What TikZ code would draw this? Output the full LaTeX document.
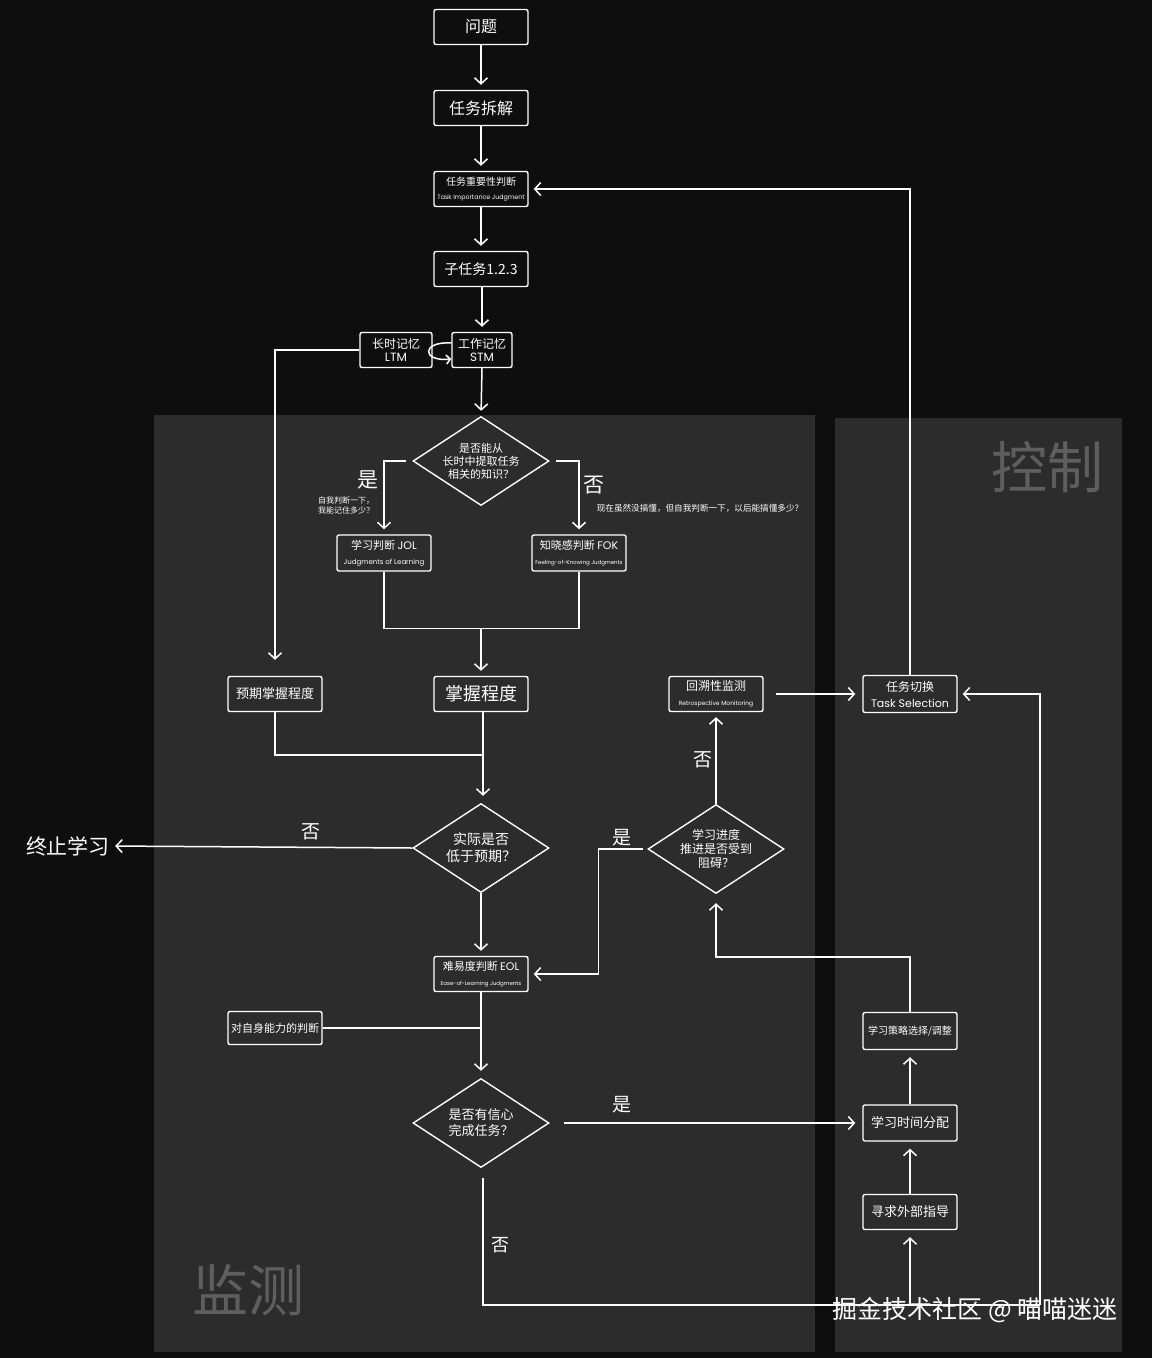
\documentclass[tikz,border=0pt]{standalone}
\usepackage{fontspec}
\setmainfont{Noto Sans CJK SC}
\newfontfamily\lat{Poppins}
\usetikzlibrary{arrows.meta,shapes.geometric}
\definecolor{bgc}{HTML}{0E0E0E}
\definecolor{panelc}{HTML}{2C2C2C}
\definecolor{titlec}{HTML}{5E5E5E}
\newcommand{\fs}[1]{\fontsize{#1}{#1}\selectfont}
\tikzset{
  box/.style={draw=white, line width=1.4pt, rounded corners=2pt, minimum width=94pt, minimum height=35pt, inner sep=0pt, text=white, align=center, font=\fs{15}},
  dia/.style={draw=white, line width=1.4pt, diamond, minimum width=136pt, minimum height=89pt, inner sep=0pt},
  dtext/.style={text=white, align=center, inner sep=0pt},
  lbl/.style={text=white, inner sep=0pt, align=center},
  ttl/.style={text=titlec, font=\fs{56}, inner sep=0pt},
  line/.style={draw=white, line width=1.5pt},
  arr/.style={line, -{Straight Barb[length=6pt,width=13pt]}, shorten >=5pt}
}
\begin{document}
\begin{tikzpicture}[x=1pt,y=-1pt]
\fill[bgc] (0,0) rectangle (1152,1358);
\useasboundingbox (0,0) rectangle (1152,1358);
\fill[panelc] (154,415) rectangle (815,1352);
\fill[panelc] (835,418) rectangle (1122,1352);
\node[ttl] (tctrl) at (1047,467) {控制};
\node[ttl] (tmon) at (248,1290) {监测};

% nodes
\node[box, font=\fs{16}] (q) at (481,27) {问题};
\node[box, font=\fs{16}] (cj) at (481,108) {任务拆解};
\node[box] (imp) at (481,189) {{\fs{10}任务重要性判断}\\[-1pt]{\lat\fs{6.3}Task Importance Judgment}};
\node[box, font=\fs{14}] (sub) at (481,269) {子任务1.2.3};
\node[box, minimum width=72pt, font=\fs{12}] (ltm) at (396,350) {长时记忆\\[1pt]{\lat LTM}};
\node[box, minimum width=60pt, font=\fs{12}] (stm) at (482,350) {工作记忆\\[1pt]{\lat STM}};
\node[dia] (d1) at (481,461) {};
\node[dtext, font=\fs{11}] (d1t) at (d1) {是否能从\\[2pt]长时中提取任务\\[2pt]相关的知识？};
\node[box, minimum height=36pt] (jol) at (384,553) {{\fs{11}学习判断 {\lat JOL}}\\[0pt]{\lat\fs{7}Judgments of Learning}};
\node[box, minimum height=36pt] (fok) at (579,553) {{\fs{11}知晓感判断 {\lat FOK}}\\[0pt]{\lat\fs{5.5}Feeling-of-Knowing Judgments}};
\node[box, font=\fs{13}] (exp) at (275,694) {预期掌握程度};
\node[box, font=\fs{18}] (mas) at (481,694) {掌握程度};
\node[box] (retro) at (716,694) {{\fs{12}回溯性监测}\\[0pt]{\lat\fs{6}Retrospective Monitoring}};
\node[box, minimum height=37pt] (sel) at (910,694) {{\fs{12}任务切换}\\[1pt]{\lat\fs{11}Task Selection}};
\node[dia] (d2) at (481,848) {};
\node[dtext, font=\fs{14}] (d2t) at (d2) {实际是否\\[3pt]低于预期？};
\node[dia] (d3) at (716,849) {};
\node[dtext, font=\fs{12}] (d3t) at (d3) {学习进度\\[2pt]推进是否受到\\[2pt]阻碍？};
\node[lbl, font=\fs{21}] (stop) at (68,846) {终止学习};
\node[box] (eol) at (481,974) {{\fs{11}难易度判断 {\lat EOL}}\\[0pt]{\lat\fs{5.5}Ease-of-Learning Judgments}};
\node[box, font=\fs{11}, minimum height=33pt] (self) at (275,1028) {对自身能力的判断};
\node[dia] (d4) at (481,1123) {};
\node[dtext, font=\fs{13}] (d4t) at (d4) {是否有信心\\[3pt]完成任务？};
\node[box, font=\fs{10}, minimum height=37pt] (strat) at (910,1031) {学习策略选择/调整};
\node[box, font=\fs{13}, minimum height=36pt] (time) at (910,1123) {学习时间分配};
\node[box, font=\fs{13}] (guide) at (910,1212) {寻求外部指导};

% labels
\node[lbl, font=\fs{21}] (yes1) at (368,480) {是};
\node[lbl, font=\fs{8}] (note1) at (346,505) {自我判断一下，\\[2pt]我能记住多少？};
\node[lbl, font=\fs{21}] (no1) at (594,485) {否};
\node[lbl, font=\fs{8.6}] (note2) at (700,508) {现在虽然没搞懂，但自我判断一下，以后能搞懂多少？};
\node[lbl, font=\fs{19}] (no2) at (311,832) {否};
\node[lbl, font=\fs{19}] (yes2) at (622,838) {是};
\node[lbl, font=\fs{19}] (no3) at (703,760) {否};
\node[lbl, font=\fs{19}] (yes3) at (622,1105) {是};
\node[lbl, font=\fs{18}] (no4) at (500,1245) {否};
\node[lbl, font=\fs{25}] (wm) at (975,1310) {掘金技术社区 @ 喵喵迷迷};

% coordinates
\coordinate (jm) at (481,628);
\coordinate (j2) at (483,755);
\coordinate (j3) at (481,1028);
\coordinate (b1) at (483,1305);
\coordinate (b2) at (1040,1305);
\coordinate (b3) at (910,1305);

% connectors
\draw[arr] (q) -- (cj);
\draw[arr] (cj) -- (imp);
\draw[arr] (imp) -- (sub);
\draw[arr] (sub.south -| stm.north) -- (stm.north);
\draw[line, -{Straight Barb[length=4pt,width=9pt]}] ([yshift=7pt]stm.west) .. controls +(-30,-2) and +(-30,3) .. ([yshift=-9pt]stm.west);
\draw[arr] (stm.south) -- (d1.north);
\draw[arr] ([xshift=-6pt]d1.west) -| (jol.north);
\draw[arr] ([xshift=6pt]d1.east) -| (fok.north);
\draw[line] (jol.south) -- ++(0,57) -| (fok.south);
\draw[arr] (jm) -- (mas.north);
\draw[arr, shorten >=16pt] (ltm.west) -| (exp.north);
\draw[line] (exp.south) |- (j2);
\draw[arr, shorten >=7pt] (mas.south -| j2) -- (d2.north -| j2);
\draw[arr] (d2.west) -- (stop.east);
\draw[arr] (d2.south) -- (eol.north);
\draw[arr] ([xshift=-4pt]d3.west) -- ++(-45,0) |- (eol.east);
\draw[arr] (d3.north) -- (retro.south);
\draw[arr, shorten >=7pt] ([xshift=12pt]retro.east) -- (sel.west);
\draw[arr] (sel.north) |- (imp.east);
\draw[line] (self.east) -- (j3);
\draw[arr, shorten >=7pt] (eol.south) -- (d4.north);
\draw[arr, shorten >=7pt] ([xshift=14pt]d4.east) -- (time.west);
\draw[line] ([yshift=-10pt]d4.south -| b1) -- (b1) -- (b2);
\draw[arr] (b2) |- (sel.east);
\draw[arr, shorten >=7pt] (b3) -- (guide.south);
\draw[arr, shorten >=7pt] (guide.north) -- (time.south);
\draw[arr, shorten >=7pt] (time.north) -- (strat.south);
\draw[arr, shorten >=9pt] (strat.north) -- ++(0,-55) -| (d3.south);
\end{tikzpicture}
\end{document}
